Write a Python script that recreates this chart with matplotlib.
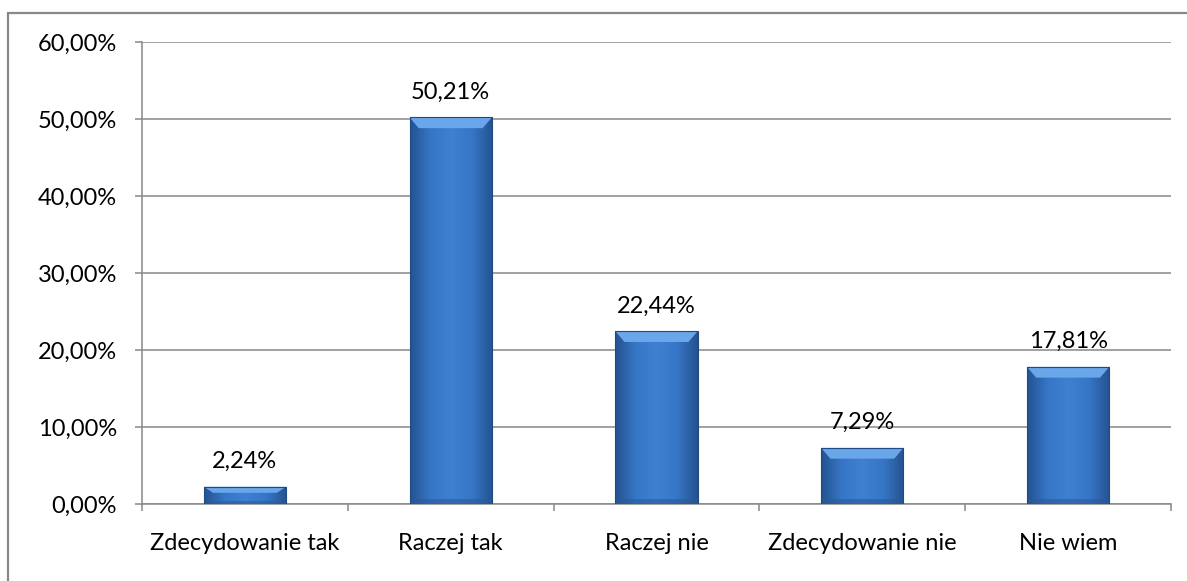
import numpy as np
import matplotlib
matplotlib.use("Agg")
import matplotlib.pyplot as plt
from matplotlib.colors import LinearSegmentedColormap
from matplotlib.patches import Rectangle, Polygon

categories = ["Zdecydowanie tak", "Raczej tak", "Raczej nie", "Zdecydowanie nie", "Nie wiem"]
shares = [2.24, 50.21, 22.44, 7.29, 17.81]
y_ticks = [0, 10, 20, 30, 40, 50, 60]

plt.rcParams["font.family"] = ["Lato", "DejaVu Sans"]
FS = 17

fig = plt.figure(figsize=(11.87, 5.81), dpi=100)
ax = fig.add_axes([142 / 1187, 77 / 581, 1029 / 1187, 462 / 581])

x = np.arange(len(categories))
bars = ax.bar(x, shares, width=0.4, color="#3a78c8", edgecolor="none", zorder=3)

ax.set_xlim(-0.5, len(categories) - 0.5)
ax.set_ylim(0, 60)

# shaded bar body: darker sides, lighter middle
side = LinearSegmentedColormap.from_list("side", ["#24528f", "#3776c6", "#3f80d2", "#3776c6", "#24528f"])
grad = np.linspace(0, 1, 256).reshape(1, -1)
bevel_x = 0.045
bevel_y = 1.4
for b in bars:
    x0, w, h = b.get_x(), b.get_width(), b.get_height()
    im = ax.imshow(grad, cmap=side, aspect="auto", extent=(x0, x0 + w, 0, h), zorder=3)
    im.set_clip_path(b)
    by = min(bevel_y, h * 0.35)
    # light top bevel
    ax.add_patch(Polygon([(x0, h), (x0 + w, h), (x0 + w - bevel_x, h - by), (x0 + bevel_x, h - by)],
                         closed=True, facecolor="#6aa6ea", edgecolor="none", zorder=4))
    # darker bottom edge
    ax.add_patch(Rectangle((x0, 0), w, by * 0.5, facecolor="#2a5a9a", edgecolor="none",
                           alpha=0.6, zorder=4))
    ax.add_patch(Rectangle((x0, 0), w, h, facecolor="none", edgecolor="#1f4a82",
                           linewidth=0.8, zorder=5))

for xi, v in zip(x, shares):
    ax.annotate(f"{v:.2f}%".replace(".", ","), (xi, v), xytext=(0, 10.5), textcoords="offset points",
                ha="center", va="bottom", fontsize=FS, color="#000000", zorder=6)

ax.set_yticks(y_ticks)
ax.set_yticklabels([f"{t:.2f}%".replace(".", ",") for t in y_ticks], fontsize=FS)
ax.yaxis.grid(True, color="#888888", linewidth=1.1, zorder=1)
ax.tick_params(axis="y", length=5, width=1.1, color="#888888", pad=13)

ax.set_xticks(x)
ax.set_xticklabels(categories, fontsize=FS)
ax.set_xticks(np.arange(-0.5, len(categories)), minor=True)
ax.tick_params(axis="x", which="major", length=0, pad=21)
ax.tick_params(axis="x", which="minor", length=5, width=1.1, color="#888888")

for s in ("top", "right"):
    ax.spines[s].set_visible(False)
for s in ("left", "bottom"):
    ax.spines[s].set_color("#888888")
    ax.spines[s].set_linewidth(1.1)

# outer chart frame
fig.patches.append(Rectangle((8 / 1187, -0.05), 1.2, (581 - 13) / 581 + 0.05,
                             transform=fig.transFigure, fill=False,
                             edgecolor="#888888", linewidth=1.6))

fig.savefig("out.png", dpi=100, facecolor="white")
